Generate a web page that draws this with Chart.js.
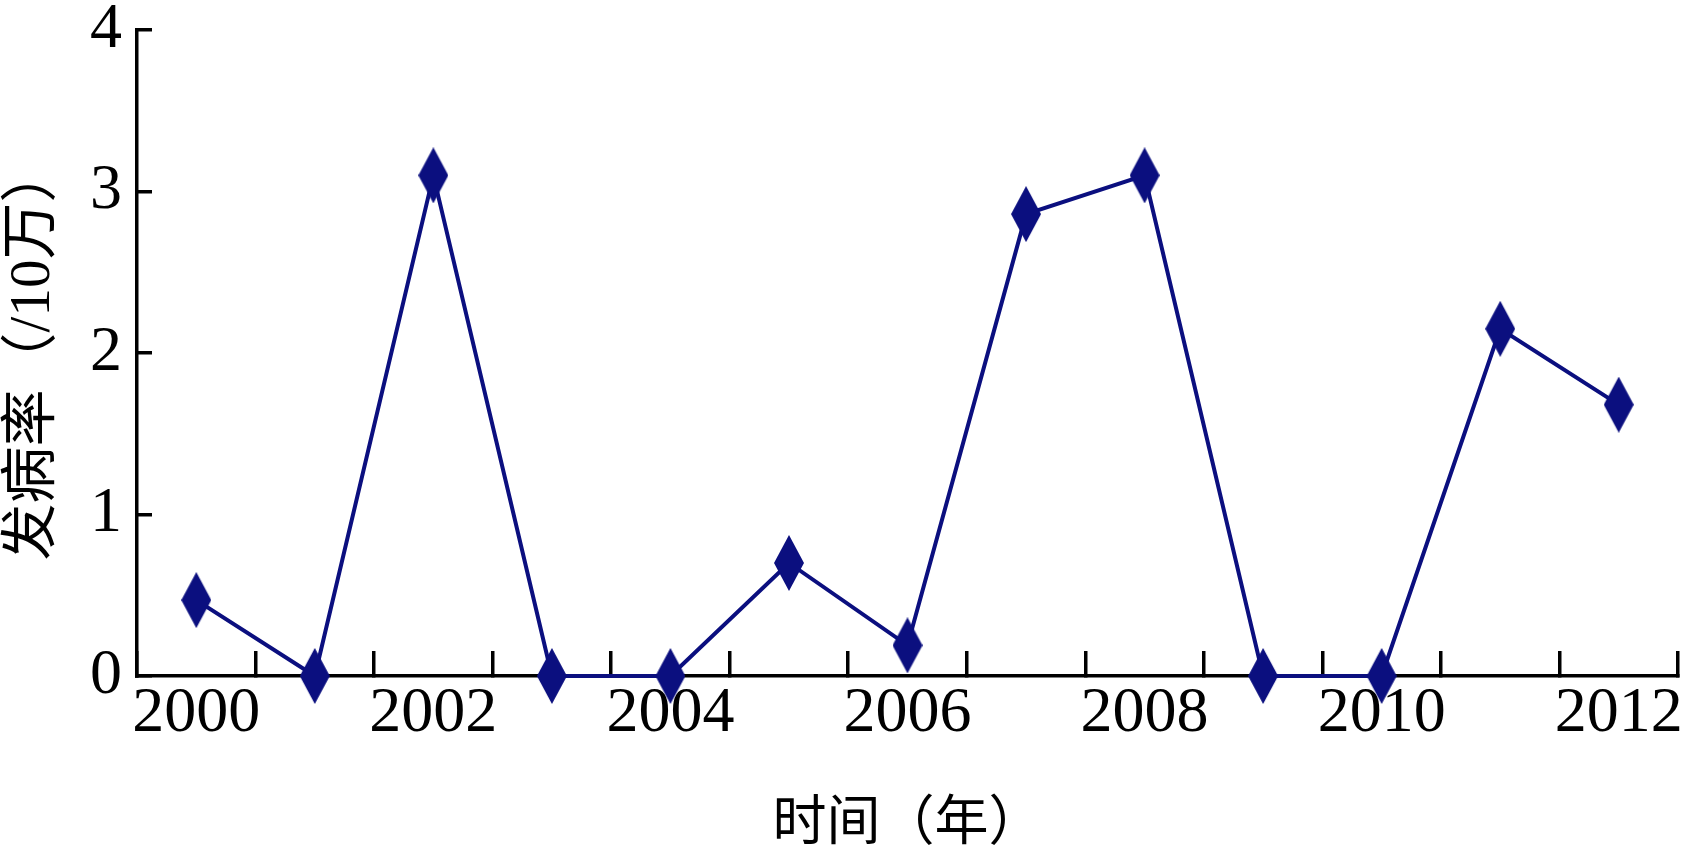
<!DOCTYPE html>
<html>
<head>
<meta charset="utf-8">
<script src="https://cdn.jsdelivr.net/npm/chart.js@4.4.1/dist/chart.umd.min.js"></script>
<style>
  html, body { margin: 0; padding: 0; background: #fff; }
  #chart { display: block; }
</style>
</head>
<body>
<canvas id="chart" width="1690" height="858"></canvas>
<script>
// data
const years = ['2000', '2001', '2002', '2003', '2004', '2005', '2006',
               '2007', '2008', '2009', '2010', '2011', '2012'];
const incidence = [0.47, 0, 3.1, 0, 0, 0.7, 0.19, 2.86, 3.1, 0, 0, 2.15, 1.68];
const shownYears = ['2000', '2002', '2004', '2006', '2008', '2010', '2012'];
const yTicks = [0, 1, 2, 3, 4];

const lineColor = '#0b0f7f';
const serif = '"Liberation Serif", "Noto Sans CJK SC", serif';

// tall diamond marker
function diamond(w, h, color) {
    const c = document.createElement('canvas');
    c.width = w;
    c.height = h;
    const g = c.getContext('2d');
    g.fillStyle = color;
    g.beginPath();
    g.moveTo(w / 2, 0);
    g.lineTo(w, h / 2);
    g.lineTo(w / 2, h);
    g.lineTo(0, h / 2);
    g.closePath();
    g.fill();
    return c;
}

const ctx = document.getElementById('chart').getContext('2d');
new Chart(ctx, {
    type: 'line',
    data: {
        labels: years,
        datasets: [{
            data: incidence,
            borderColor: lineColor,
            borderWidth: 4,
            pointStyle: diamond(30, 56, lineColor),
            clip: false,
            tension: 0
        }]
    },
    options: {
        responsive: false,
        animation: false,
        layout: { padding: { top: 30, right: 12, left: 0, bottom: 0 } },
        plugins: {
            legend: { display: false },
            tooltip: { enabled: false }
        },
        scales: {
            x: {
                offset: true,
                grid: {
                    offset: true,
                    drawOnChartArea: false,
                    color: '#000',
                    lineWidth: 3.5,
                    tickLength: -25
                },
                border: { color: '#000', width: 3.5 },
                ticks: {
                    autoSkip: false,
                    maxRotation: 0,
                    color: '#000',
                    padding: 25,
                    font: { family: serif, size: 64 },
                    callback: function(value) {
                        const y = this.getLabelForValue(value);
                        return shownYears.includes(y) ? y : '';
                    }
                },
                title: {
                    display: true,
                    text: '时间（年）',
                    color: '#000',
                    padding: { top: 0, bottom: 0 },
                    font: { family: serif, size: 54 }
                },
                afterFit: function(scale) {
                    scale.height = 182;
                    scale.paddingLeft = 0;
                    scale.paddingRight = 0;
                }
            },
            y: {
                min: 0,
                max: 4,
                afterBuildTicks: function(scale) {
                    scale.ticks = yTicks.map(v => ({ value: v }));
                },
                grid: {
                    drawOnChartArea: false,
                    color: '#000',
                    lineWidth: 3.5,
                    tickLength: -15
                },
                border: { color: '#000', width: 3.5 },
                ticks: {
                    color: '#000',
                    padding: 30,
                    font: { family: serif, size: 64 }
                },
                title: {
                    display: true,
                    text: '发病率（/10万）',
                    color: '#000',
                    padding: { top: 0, bottom: 0 },
                    font: { family: serif, size: 57 }
                },
                afterFit: function(scale) {
                    scale.width = 137;
                    scale.paddingTop = 0;
                    scale.paddingBottom = 0;
                }
            }
        }
    }
});
</script>
</body>
</html>
